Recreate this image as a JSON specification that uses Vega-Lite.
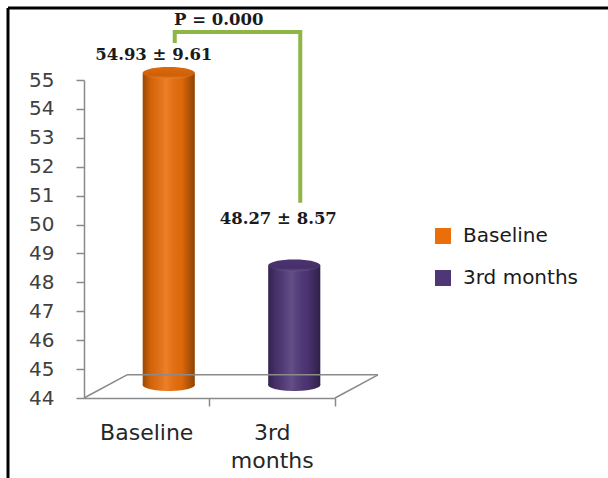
{
  "$schema": "https://vega.github.io/schema/vega-lite/v6.json",
  "autosize": {"type": "none"},
  "width": 600,
  "height": 470,
  "padding": {"left": 8, "top": 8, "right": 0, "bottom": 0},
  "background": "white",
  "config": {
    "view": {"stroke": "#000000", "strokeWidth": 3, "strokeDash": [600, 1070, 470, 0]},
    "font": "DejaVu Sans"
  },
  "datasets": {
    "bars": [
      {"group": "Baseline", "mean": 54.93, "label": "54.93 ± 9.61"},
      {"group": "3rd months", "mean": 48.27, "label": "48.27 ± 8.57"}
    ],
    "bracket": [
      {"group": "Baseline", "level": 56.28, "step": 1},
      {"group": "Baseline", "level": 56.66, "step": 2},
      {"group": "3rd months", "level": 56.66, "step": 3},
      {"group": "3rd months", "level": 50.75, "step": 4}
    ],
    "one": [{"p": "P = 0.000"}]
  },
  "data": {"name": "bars"},
  "layer": [
    {
      "mark": {"type": "point", "filled": true, "opacity": 1, "size": 2704, "shape": "M -1 0 A 1 0.23 0 1 0 1 0 A 1 0.23 0 1 0 -1 0 Z", "xOffset": 22, "yOffset": -13},
      "encoding": {
        "x": {
          "field": "group", "type": "nominal", "sort": ["Baseline", "3rd months"],
          "scale": {"domain": ["Baseline", "3rd months"], "range": [76, 327], "paddingInner": 0, "paddingOuter": 0},
          "axis": {
            "title": null, "orient": "bottom", "offset": -80, "bandPosition": 1,
            "domainColor": "#8a8a8a", "domainWidth": 1.5, "tickColor": "#8a8a8a", "tickWidth": 1.5, "tickSize": 8,
            "labelFont": "DejaVu Sans", "labelFontSize": 22, "labelColor": "#262626", "labelPadding": 16,
            "labelAngle": 0, "labelBaseline": "top", "labelLineHeight": 28,
            "labelExpr": "datum.label == '3rd months' ? ['3rd', 'months'] : datum.label"
          }
        },
        "y": {
          "datum": 44, "type": "quantitative",
          "scale": {"domain": [44, 55], "range": [390, 72], "nice": false, "zero": false},
          "axis": {
            "title": null, "orient": "left", "offset": -76, "values": [44,45,46,47,48,49,50,51,52,53,54,55],
            "grid": false, "domainColor": "#8a8a8a", "domainWidth": 1.5, "tickColor": "#8a8a8a", "tickWidth": 1.5, "tickSize": 8,
            "labelFont": "DejaVu Sans", "labelFontSize": 20, "labelColor": "#404040", "labelPadding": 22
          }
        },
        "color": {
          "field": "group", "type": "nominal",
          "scale": {"domain": ["Baseline", "3rd months"], "range": ["#EA6E0A", "#4F3677"]},
          "legend": {
            "title": null, "orient": "none", "legendX": 425, "legendY": 218,
            "symbolType": "square", "symbolSize": 256, "symbolStrokeWidth": 0, "symbolOpacity": 1,
            "labelFont": "DejaVu Sans", "labelFontSize": 20, "labelColor": "#1a1a1a", "labelOffset": 10, "rowPadding": 22
          }
        }
      }
    },
    {
      "mark": {"type": "point", "filled": true, "opacity": 1, "size": 2704, "shape": "M -1 0 A 1 0.23 0 1 0 1 0 A 1 0.23 0 1 0 -1 0 Z", "xOffset": 22, "yOffset": -13,
        "fill": {"gradient": "linear", "x1": 0, "x2": 1, "y1": 0, "y2": 0, "stops": [
          {"offset": 0, "color": "rgba(0,0,0,0.35)"}, {"offset": 0.15, "color": "rgba(0,0,0,0.1)"},
          {"offset": 0.45, "color": "rgba(255,255,255,0.12)"}, {"offset": 0.75, "color": "rgba(0,0,0,0.05)"},
          {"offset": 1, "color": "rgba(0,0,0,0.4)"}]}},
      "encoding": {
        "x": {"field": "group", "type": "nominal"},
        "y": {"datum": 44, "type": "quantitative"}
      }
    },
    {
      "mark": {"type": "bar", "width": 52, "xOffset": 22, "yOffset": -9, "y2Offset": -13},
      "encoding": {
        "x": {"field": "group", "type": "nominal"},
        "y": {"field": "mean", "type": "quantitative"},
        "y2": {"datum": 44},
        "color": {"field": "group", "type": "nominal"}
      }
    },
    {
      "mark": {"type": "bar", "width": 52, "xOffset": 22, "yOffset": -9, "y2Offset": -13,
        "color": {"gradient": "linear", "x1": 0, "x2": 1, "y1": 0, "y2": 0, "stops": [
          {"offset": 0, "color": "rgba(0,0,0,0.35)"}, {"offset": 0.15, "color": "rgba(0,0,0,0.1)"},
          {"offset": 0.45, "color": "rgba(255,255,255,0.12)"}, {"offset": 0.75, "color": "rgba(0,0,0,0.05)"},
          {"offset": 1, "color": "rgba(0,0,0,0.4)"}]}},
      "encoding": {
        "x": {"field": "group", "type": "nominal"},
        "y": {"field": "mean", "type": "quantitative"},
        "y2": {"datum": 44}
      }
    },
    {
      "mark": {"type": "point", "filled": true, "opacity": 1, "size": 2704, "shape": "M -1 0 A 1 0.23 0 1 0 1 0 A 1 0.23 0 1 0 -1 0 Z", "xOffset": 22, "yOffset": -9},
      "encoding": {
        "x": {"field": "group", "type": "nominal"},
        "y": {"field": "mean", "type": "quantitative"},
        "color": {"field": "group", "type": "nominal"}
      }
    },
    {
      "mark": {"type": "point", "filled": true, "opacity": 1, "size": 2704, "shape": "M -1 0 A 1 0.23 0 1 0 1 0 A 1 0.23 0 1 0 -1 0 Z", "xOffset": 22, "yOffset": -9,
        "fill": {"gradient": "linear", "x1": 0, "x2": 0, "y1": 0, "y2": 1, "stops": [
          {"offset": 0, "color": "rgba(0,0,0,0.05)"}, {"offset": 0.7, "color": "rgba(0,0,0,0.12)"},
          {"offset": 1, "color": "rgba(255,255,255,0.15)"}]}},
      "encoding": {
        "x": {"field": "group", "type": "nominal"},
        "y": {"field": "mean", "type": "quantitative"}
      }
    },
    {
      "data": {"name": "one"},
      "mark": {"type": "rule", "color": "#8a8a8a", "strokeWidth": 1.5, "xOffset": -19.75, "x2Offset": 105.75},
      "encoding": {
        "x": {"datum": "Baseline"},
        "x2": {"datum": "3rd months"},
        "y": {"datum": 44.8, "type": "quantitative"}
      }
    },
    {
      "data": {"name": "one"},
      "mark": {"type": "rule", "color": "#8a8a8a", "strokeWidth": 1.5, "xOffset": -62.75, "x2Offset": -19.75},
      "encoding": {
        "x": {"datum": "Baseline"},
        "x2": {"datum": "Baseline"},
        "y": {"datum": 44, "type": "quantitative"},
        "y2": {"datum": 44.8}
      }
    },
    {
      "data": {"name": "one"},
      "mark": {"type": "rule", "color": "#8a8a8a", "strokeWidth": 1.5, "xOffset": 62.75, "x2Offset": 105.75},
      "encoding": {
        "x": {"datum": "3rd months"},
        "x2": {"datum": "3rd months"},
        "y": {"datum": 44, "type": "quantitative"},
        "y2": {"datum": 44.8}
      }
    },
    {
      "transform": [{"filter": "datum.group == 'Baseline'"}],
      "mark": {"type": "text", "font": "DejaVu Serif", "fontWeight": "bold", "fontSize": 16.5, "color": "#1a1a1a", "dx": 7, "dy": -27, "baseline": "middle"},
      "encoding": {
        "x": {"field": "group", "type": "nominal"},
        "y": {"field": "mean", "type": "quantitative"},
        "text": {"field": "label"}
      }
    },
    {
      "transform": [{"filter": "datum.group == '3rd months'"}],
      "mark": {"type": "text", "font": "DejaVu Serif", "fontWeight": "bold", "fontSize": 16.5, "color": "#1a1a1a", "dx": 6, "dy": -56, "baseline": "middle"},
      "encoding": {
        "x": {"field": "group", "type": "nominal"},
        "y": {"field": "mean", "type": "quantitative"},
        "text": {"field": "label"}
      }
    },
    {
      "data": {"name": "bracket"},
      "mark": {"type": "line", "color": "#8DB646", "strokeWidth": 4, "xOffset": 28, "strokeJoin": "miter", "strokeCap": "butt"},
      "encoding": {
        "x": {"field": "group", "type": "nominal"},
        "y": {"field": "level", "type": "quantitative"},
        "order": {"field": "step", "type": "quantitative"}
      }
    },
    {
      "data": {"name": "one"},
      "mark": {"type": "text", "font": "DejaVu Serif", "fontWeight": "bold", "fontSize": 16.5, "color": "#1a1a1a", "dx": 72, "baseline": "middle"},
      "encoding": {
        "x": {"datum": "Baseline"},
        "y": {"datum": 57.08, "type": "quantitative"},
        "text": {"field": "p"}
      }
    }
  ]
}
